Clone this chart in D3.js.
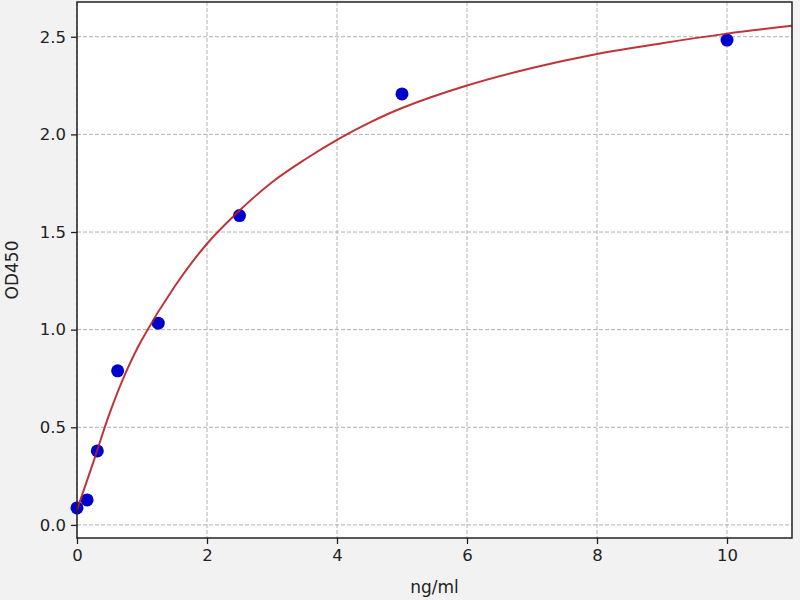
<!DOCTYPE html>
<html>
<head>
<meta charset="utf-8">
<script src="https://cdn.jsdelivr.net/npm/d3@7"></script>
<style>
  body { margin: 0; background: #f2f2f2; }
  svg { display: block; }
  text { font-family: "DejaVu Sans", sans-serif; fill: #222; }
</style>
</head>
<body>
<svg id="chart"></svg>
<script>
// standard points (ng/ml vs OD450)
const stdConc = [0, 0.156, 0.3125, 0.625, 1.25, 2.5, 5, 10];
const stdOD = [0.087, 0.128, 0.379, 0.789, 1.033, 1.584, 2.207, 2.483];

// fitted curve
const curveConc = [0, 0.25, 0.5, 0.75, 1, 1.5, 2, 2.5, 3, 3.5, 4, 4.5, 5, 6, 7, 8, 9, 10, 11];
const curveOD = [0.077, 0.32, 0.57, 0.78, 0.95, 1.22, 1.44, 1.61, 1.755, 1.87, 1.972, 2.06, 2.135, 2.25, 2.34, 2.412, 2.467, 2.516, 2.556];

const xTicks = [0, 2, 4, 6, 8, 10];
const yTicks = [0.0, 0.5, 1.0, 1.5, 2.0, 2.5];

const config = {
  width: 800,
  height: 600,
  margin: { top: 2, right: 8, bottom: 62, left: 77 }
};

const innerW = config.width - config.margin.left - config.margin.right;
const innerH = config.height - config.margin.top - config.margin.bottom;

const svg = d3.select('#chart')
  .attr('width', config.width)
  .attr('height', config.height);

const chart = svg.append('g')
  .attr('transform', `translate(${config.margin.left},${config.margin.top})`);

const xScale = d3.scaleLinear().domain([0, 11]).range([0, innerW]);
const yScale = d3.scaleLinear().domain([-0.067, 2.678]).range([innerH, 0]);

chart.append('rect')
  .attr('width', innerW)
  .attr('height', innerH)
  .attr('fill', '#fff');

// grid
chart.append('g').selectAll('line')
  .data(xTicks)
  .join('line')
  .attr('x1', d => xScale(d)).attr('x2', d => xScale(d))
  .attr('y1', 0).attr('y2', innerH)
  .attr('stroke', '#b0b0b0')
  .attr('stroke-width', 1)
  .attr('stroke-dasharray', '4,2');

chart.append('g').selectAll('line')
  .data(yTicks)
  .join('line')
  .attr('x1', 0).attr('x2', innerW)
  .attr('y1', d => yScale(d)).attr('y2', d => yScale(d))
  .attr('stroke', '#b0b0b0')
  .attr('stroke-width', 1)
  .attr('stroke-dasharray', '4,2');

// axes
const xAxis = d3.axisBottom(xScale).tickValues(xTicks).tickFormat(d3.format('d'))
  .tickSizeInner(6).tickSizeOuter(0).tickPadding(5);
const yAxis = d3.axisLeft(yScale).tickValues(yTicks).tickFormat(d3.format('.1f'))
  .tickSizeInner(6).tickSizeOuter(0).tickPadding(5);

const xAxisGroup = chart.append('g')
  .attr('transform', `translate(0,${innerH})`)
  .call(xAxis);
const yAxisGroup = chart.append('g').call(yAxis);

[xAxisGroup, yAxisGroup].forEach(g => {
  g.select('.domain').remove();
  g.selectAll('.tick line').attr('stroke', '#222').attr('stroke-width', 1.3);
  g.selectAll('.tick text')
    .style('font-family', '"DejaVu Sans", sans-serif')
    .style('font-size', '16.5px')
    .attr('fill', '#222');
});

// points
chart.append('g').selectAll('circle')
  .data(stdConc.map((c, i) => ({ c: c, od: stdOD[i] })))
  .join('circle')
  .attr('cx', d => xScale(d.c))
  .attr('cy', d => yScale(d.od))
  .attr('r', 6.5)
  .attr('fill', '#0000cc');

// fitted curve
const line = d3.line()
  .x(d => xScale(d.c))
  .y(d => yScale(d.od))
  .curve(d3.curveCatmullRom.alpha(0.5));

chart.append('path')
  .datum(curveConc.map((c, i) => ({ c: c, od: curveOD[i] })))
  .attr('d', line)
  .attr('fill', 'none')
  .attr('stroke', '#b81e24')
  .attr('stroke-opacity', 0.9)
  .attr('stroke-width', 2);

// frame
chart.append('rect')
  .attr('width', innerW)
  .attr('height', innerH)
  .attr('fill', 'none')
  .attr('stroke', '#222')
  .attr('stroke-width', 1.5);

// labels
svg.append('text')
  .attr('x', config.margin.left + innerW / 2)
  .attr('y', 593)
  .attr('text-anchor', 'middle')
  .style('font-size', '17px')
  .text('ng/ml');

svg.append('text')
  .attr('transform', `translate(18,${config.margin.top + innerH / 2}) rotate(-90)`)
  .attr('text-anchor', 'middle')
  .style('font-size', '17px')
  .text('OD450');
</script>
</body>
</html>
